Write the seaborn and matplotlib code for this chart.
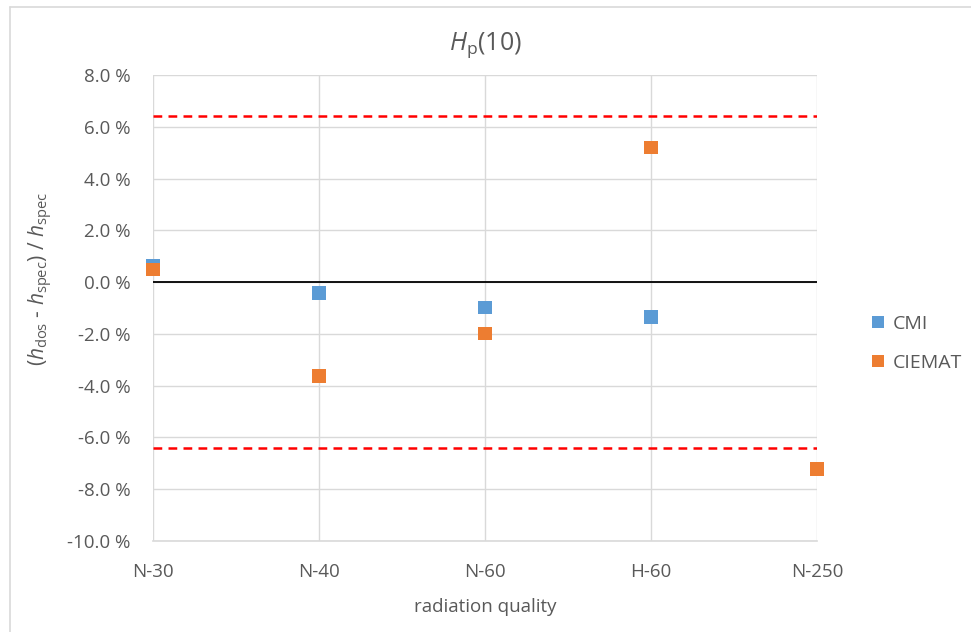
import matplotlib
matplotlib.use("Agg")
import matplotlib.pyplot as plt
import seaborn as sns
import pandas as pd
import numpy as np
from matplotlib.lines import Line2D

categories = ["N-30", "N-40", "N-60", "H-60", "N-250"]
cmi = [0.62, -0.42, -0.97, -1.35, np.nan]
ciemat = [0.50, -3.63, -1.97, 5.21, -7.22]
limit = 6.4
yticks = [-10, -8, -6, -4, -2, 0, 2, 4, 6, 8]

sns.set_theme(style="white")
FONT = "Open Sans"
plt.rcParams["font.family"] = [FONT, "DejaVu Sans"]
plt.rcParams["mathtext.fontset"] = "custom"
plt.rcParams["mathtext.rm"] = FONT
plt.rcParams["mathtext.it"] = FONT + ":italic"
plt.rcParams["mathtext.bf"] = FONT + ":bold"

txt = "#595959"
grid = "#D9D9D9"

df = pd.DataFrame({
    "quality": categories * 2,
    "x": list(range(len(categories))) * 2,
    "value": cmi + ciemat,
    "lab": ["CMI"] * len(categories) + ["CIEMAT"] * len(categories),
}).dropna()

fig = plt.figure(figsize=(9.71, 6.32), dpi=100)
x0, y0 = 9.5 / 971, 1 - 6.5 / 632
fig.add_artist(Line2D([x0, x0], [0, y0], transform=fig.transFigure, color=grid, lw=1.2))
fig.add_artist(Line2D([x0, 1], [y0, y0], transform=fig.transFigure, color=grid, lw=1.2))

ax = fig.add_axes([153 / 971, 1 - 541 / 632, (817 - 153) / 971, (541 - 75) / 632])

ax.axhline(0, color="black", lw=1.3, zorder=2)
for v in (limit, -limit):
    ax.axhline(v, color="#FF0000", lw=1.8, ls=(0, (3.5, 2.5)), zorder=2)

sns.scatterplot(data=df, x="x", y="value", hue="lab", hue_order=["CMI", "CIEMAT"],
                palette={"CMI": "#5B9BD5", "CIEMAT": "#ED7D31"}, marker="s", s=90,
                edgecolor="none", linewidth=0, ax=ax, zorder=3, clip_on=False)

ax.set_xlim(0, len(categories) - 1)
ax.set_ylim(-10, 8)
ax.set_xticks(range(len(categories)))
ax.set_xticklabels(categories)
ax.set_yticks(yticks)
ax.set_yticklabels([f"{t:.1f} %" for t in yticks])
ax.grid(True, color=grid, lw=1.0)
ax.set_axisbelow(True)
for s in ["top", "right", "left"]:
    ax.spines[s].set_visible(False)
ax.spines["bottom"].set_color(grid)
ax.spines["bottom"].set_linewidth(1.2)
ax.tick_params(axis="both", length=0, labelsize=13.5, colors=txt)
ax.tick_params(axis="y", pad=16)
ax.tick_params(axis="x", pad=16)

ax.set_xlabel("radiation quality", fontsize=13.5, color=txt, labelpad=12)
ax.set_ylabel(r"$(h_{\mathrm{dos}}$ - $h_{\mathrm{spec}})$ / $h_{\mathrm{spec}}$", fontsize=15, color=txt)
ax.yaxis.set_label_coords(-0.148, 0.562)
ax.set_title(r"$H_{\mathrm{p}}$(10)", fontsize=18, color=txt, pad=18)

sns.move_legend(ax, "center left", bbox_to_anchor=(1.081, 0.424), frameon=False, title=None,
                fontsize=14, labelcolor=txt, handlelength=0.7, handletextpad=0.43,
                labelspacing=1.1, markerscale=0.85, borderaxespad=0, borderpad=0)

fig.savefig("out.png", dpi=100)
